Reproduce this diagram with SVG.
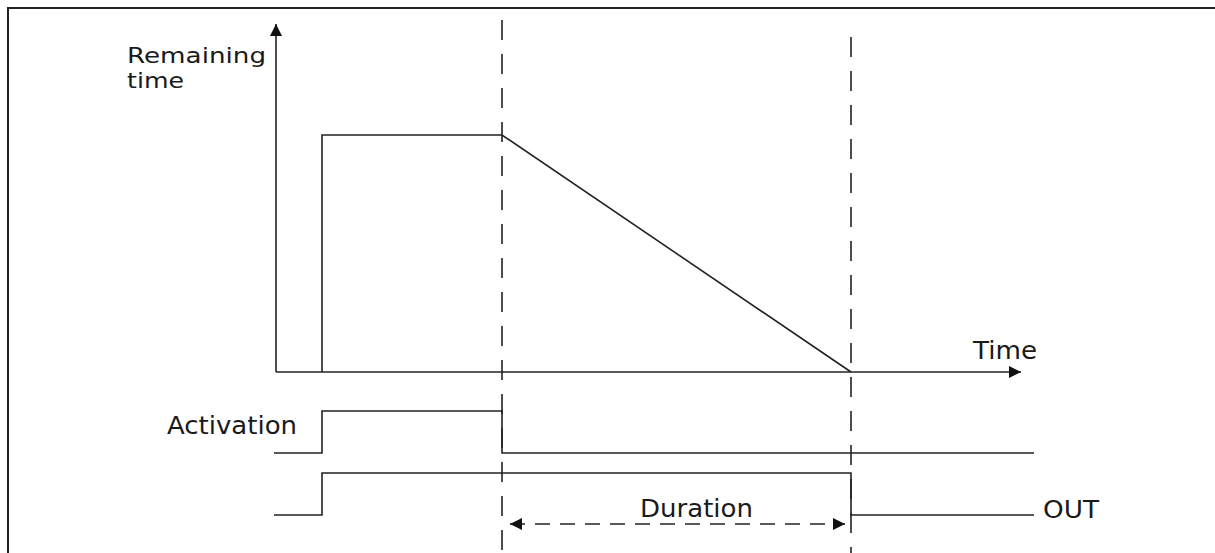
<svg xmlns="http://www.w3.org/2000/svg" width="1215" height="553" viewBox="0 0 1215 553">
<defs>
<style>
.ln{fill:none;stroke:#222;stroke-width:1.6}
.dash{fill:none;stroke:#222;stroke-width:1.6;stroke-dasharray:20 14}
.ddash{fill:none;stroke:#222;stroke-width:1.6;stroke-dasharray:15 10}
.t{font-family:"DejaVu Sans","Liberation Sans",sans-serif;font-size:24px;fill:#1a1a1a}
.s{font-size:21px}
</style>
<marker id="ah" viewBox="0 0 12 12" refX="12" refY="6" markerWidth="12" markerHeight="12" markerUnits="userSpaceOnUse" orient="auto-start-reverse">
<path d="M0,0 L12,6 L0,12 Z" fill="#111"/>
</marker>
</defs>
<rect width="1215" height="553" fill="#fff"/>
<path d="M8,553 V8 H1215" fill="none" stroke="#222" stroke-width="2"/>
<g id="connectors">
<path id="y-axis" class="ln" d="M276,372 V24" marker-end="url(#ah)"/>
<path id="x-axis" class="ln" d="M276,372 H1021" marker-end="url(#ah)"/>
<path id="remaining-curve" class="ln" d="M322,372 V135 H502 L851,372"/>
<path id="dash-start" class="dash" d="M502,20 V553"/>
<path id="dash-end" class="dash" d="M851,37 V553"/>
<path id="activation-signal" class="ln" d="M274,453 H322 V411 H502 V453 H1034"/>
<path id="out-signal" class="ln" d="M274,515 H322 V473 H851 V515 H1034"/>
<path id="duration-arrow" class="ddash" d="M510,524 H845" marker-start="url(#ah)" marker-end="url(#ah)"/>
</g>
<g id="label-remaining">
<text class="t s" x="127" y="63" textLength="139" lengthAdjust="spacingAndGlyphs">Remaining</text>
<text class="t s" x="127" y="88" textLength="57" lengthAdjust="spacingAndGlyphs">time</text>
</g>
<g id="label-time"><text class="t" x="973" y="359" textLength="64" lengthAdjust="spacingAndGlyphs">Time</text></g>
<g id="label-activation"><text class="t" x="167" y="434" textLength="130" lengthAdjust="spacingAndGlyphs">Activation</text></g>
<g id="label-duration"><text class="t" x="640" y="517" textLength="113" lengthAdjust="spacingAndGlyphs">Duration</text></g>
<g id="label-out"><text class="t" x="1043" y="518" textLength="56" lengthAdjust="spacingAndGlyphs">OUT</text></g>
</svg>
